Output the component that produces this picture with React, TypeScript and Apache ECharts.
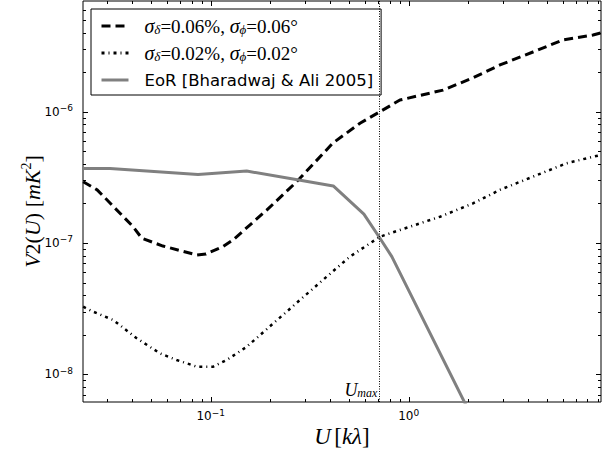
import React, { useEffect, useRef } from 'react';
import * as echarts from 'echarts';

// ---- data ----
const uDashed = [0.0227, 0.0267, 0.0406, 0.0449, 0.0574, 0.085, 0.0947, 0.1153, 0.1296, 0.1918, 0.2718, 0.4147, 0.5675, 0.716, 0.903, 1.49, 2.11, 2.89, 4.24, 6.02, 8.53, 9.36];
const vDashed = [2.93e-7, 2.54e-7, 1.33e-7, 1.086e-7, 9.48e-8, 8.11e-8, 8.24e-8, 9.38e-8, 1.055e-7, 1.78e-7, 2.93e-7, 5.78e-7, 8.16e-7, 1.0e-6, 1.227e-6, 1.46e-6, 1.81e-6, 2.27e-6, 2.85e-6, 3.52e-6, 3.84e-6, 3.98e-6];

const uDotted = [0.0227, 0.0255, 0.0322, 0.0423, 0.0554, 0.0673, 0.085, 0.1031, 0.1204, 0.152, 0.207, 0.2824, 0.3854, 0.505, 0.716, 0.903, 1.44, 2.11, 2.89, 4.24, 6.28, 8.53, 9.36];
const vDotted = [3.27e-8, 3.0e-8, 2.59e-8, 1.88e-8, 1.444e-8, 1.285e-8, 1.143e-8, 1.143e-8, 1.285e-8, 1.62e-8, 2.44e-8, 3.68e-8, 5.54e-8, 7.87e-8, 1.117e-7, 1.256e-7, 1.585e-7, 2.0e-7, 2.54e-7, 3.2e-7, 4.05e-7, 4.54e-7, 4.68e-7];

const uEoR = [0.0227, 0.031, 0.0863, 0.152, 0.2606, 0.416, 0.594, 0.716, 0.822, 2.29];
const vEoR = [3.7e-7, 3.7e-7, 3.33e-7, 3.53e-7, 3.07e-7, 2.72e-7, 1.66e-7, 1.086e-7, 7.87e-8, 3.56e-9];

const uMax = 0.711;

const seriesNames = ['s006', 's002', 'eor'];

const xMin = 0.02265;
const xMax = 9.36;
const yMin = 6.15e-9;
const yMax = 6.97e-6;

const xMajorTicks = [0.1, 1];
const yMajorTicks = [1e-8, 1e-7, 1e-6];

function minorTicks(lo: number, hi: number) {
  const out: number[] = [];
  for (let e = Math.floor(Math.log10(lo)); e <= Math.ceil(Math.log10(hi)); e++) {
    for (let k = 2; k <= 9; k++) {
      const v = k * Math.pow(10, e);
      if (v > lo && v < hi) out.push(v);
    }
  }
  return out;
}

const zip = (a: number[], b: number[]) => a.map((x, i) => [x, b[i]]);

const SERIF = 'Liberation Serif';
const SANS = 'DejaVu Sans';

function logLabel(value: number) {
  const l = Math.log10(value);
  const n = Math.round(l);
  if (Math.abs(l - n) > 1e-6) return '';
  const e = n < 0 ? '\u2212' + -n : String(n);
  return `{b|10}{s|${e}}`;
}

const labelRich = {
  b: { fontFamily: SANS, fontSize: 12, color: '#000', lineHeight: 16 },
  s: { fontFamily: SANS, fontSize: 9, color: '#000', verticalAlign: 'top', lineHeight: 10 },
};

const legendText: Record<string, string> = {
  s006: '{sp|}{g|σ}{sb|δ}{r|=0.06%, }{g|σ}{sb|ϕ}{r|=0.06°}',
  s002: '{sp|}{g|σ}{sb|δ}{r|=0.02%, }{g|σ}{sb|ϕ}{r|=0.02°}',
  eor: '{sp|}{e|EoR [Bharadwaj & Ali 2005]}',
};

function tickSeries(axis: 'x' | 'y', major: number[], minor: number[]) {
  const data = [
    ...major.map((v) => (axis === 'x' ? [v, yMin, 1] : [xMin, v, 1])),
    ...minor.map((v) => (axis === 'x' ? [v, yMin, 0] : [xMin, v, 0])),
  ];
  return {
    type: 'custom',
    silent: true,
    z: 10,
    data,
    encode: { x: 0, y: 1 },
    renderItem: (params: any, api: any) => {
      const cs = params.coordSys;
      const isMajor = api.value(2) === 1;
      const len = isMajor ? 5 : 3;
      const p = api.coord([api.value(0), api.value(1)]);
      const st = { stroke: '#000', lineWidth: 1 };
      if (axis === 'x') {
        const x = Math.round(p[0]) + 0.5;
        const b = cs.y + cs.height;
        return {
          type: 'group',
          children: [
            { type: 'line', shape: { x1: x, y1: b, x2: x, y2: b - len }, style: st },
            { type: 'line', shape: { x1: x, y1: cs.y, x2: x, y2: cs.y + len }, style: st },
          ],
        };
      }
      const y = Math.round(p[1]) + 0.5;
      const r = cs.x + cs.width;
      return {
        type: 'group',
        children: [
          { type: 'line', shape: { x1: cs.x, y1: y, x2: cs.x + len, y2: y }, style: st },
          { type: 'line', shape: { x1: r, y1: y, x2: r - len, y2: y }, style: st },
        ],
      };
    },
  };
}

export default function App() {
  const ref = useRef<HTMLDivElement>(null);
  useEffect(() => {
    if (!ref.current) return;
    const chart = echarts.init(ref.current, null, { renderer: 'svg' });
    const option: any = {
      animation: false,
      backgroundColor: '#fff',
      grid: {
        left: 83,
        top: 1,
        right: 4,
        bottom: 53,
        show: true,
        borderColor: '#000',
        borderWidth: 1,
        backgroundColor: 'transparent',
      },
      legend: {
        orient: 'vertical',
        left: 91,
        top: 9,
        padding: [7, 8, 5, 9],
        itemGap: 7,
        itemWidth: 27,
        itemHeight: 14,
        borderColor: '#000',
        borderWidth: 1,
        backgroundColor: '#fff',
        selectedMode: false,
        data: seriesNames,
        itemStyle: { opacity: 0, borderWidth: 0 },
        lineStyle: { width: 3, type: 'inherit', opacity: 1 },
        formatter: (name: string) => legendText[name],
        textStyle: {
          color: '#000',
          lineHeight: 20,
          rich: {
            sp: { width: 11 },
            g: { fontFamily: SERIF, fontStyle: 'italic', fontSize: 20, color: '#000', lineHeight: 20 },
            sb: { fontFamily: SERIF, fontStyle: 'italic', fontSize: 13, color: '#000', verticalAlign: 'bottom', lineHeight: 13 },
            r: { fontFamily: SERIF, fontSize: 19, color: '#000', lineHeight: 20 },
            e: { fontFamily: SANS, fontSize: 16.5, color: '#000', lineHeight: 20 },
          },
        },
      },
      xAxis: {
        type: 'log',
        logBase: 10,
        min: xMin,
        max: xMax,
        axisLine: { show: false },
        axisTick: { show: false },
        splitLine: { show: false },
        minorTick: { show: false },
        axisLabel: { formatter: logLabel, margin: 6, rich: labelRich },
        name: '{i|U} {r|[}{i|kλ}{r|]}',
        nameLocation: 'middle',
        nameGap: 23,
        nameMoveOverlap: false,
        nameTextStyle: {
          rich: {
            i: { fontFamily: SERIF, fontStyle: 'italic', fontSize: 23, color: '#000' },
            r: { fontFamily: SERIF, fontSize: 23, color: '#000' },
          },
        },
      },
      yAxis: {
        type: 'log',
        logBase: 10,
        min: yMin,
        max: yMax,
        axisLine: { show: false },
        axisTick: { show: false },
        splitLine: { show: false },
        minorTick: { show: false },
        axisLabel: { formatter: logLabel, margin: 10, rich: labelRich },
        name: '{i|V}{r|2(}{i|U}{r|) [}{i|mK}{sp|2}{r|]}{pd|}',
        nameLocation: 'middle',
        nameGap: 38,
        nameMoveOverlap: false,
        nameTextStyle: {
          rich: {
            pd: { width: 20 },
            i: { fontFamily: SERIF, fontStyle: 'italic', fontSize: 22, color: '#000', lineHeight: 26 },
            r: { fontFamily: SERIF, fontSize: 22, color: '#000', lineHeight: 26 },
            sp: { fontFamily: SERIF, fontSize: 14, color: '#000', verticalAlign: 'top', lineHeight: 16 },
          },
        },
      },
      series: [
        {
          name: seriesNames[0],
          type: 'line',
          data: zip(uDashed, vDashed),
          symbol: 'none',
          showSymbol: false,
          clip: true,
          itemStyle: { color: '#000' },
          lineStyle: { color: '#000', width: 3, type: [9, 5], cap: 'butt' },
          z: 2,
        },
        {
          name: seriesNames[1],
          type: 'line',
          data: zip(uDotted, vDotted),
          symbol: 'none',
          showSymbol: false,
          clip: true,
          itemStyle: { color: '#000' },
          lineStyle: { color: '#000', width: 2.5, type: [3, 4, 1, 4], cap: 'butt' },
          z: 3,
        },
        {
          name: seriesNames[2],
          type: 'line',
          data: zip(uEoR, vEoR),
          symbol: 'none',
          showSymbol: false,
          clip: true,
          itemStyle: { color: '#808080' },
          lineStyle: { color: '#808080', width: 3, type: 'solid' },
          z: 4,
          markLine: {
            silent: true,
            symbol: 'none',
            label: { show: false },
            lineStyle: { color: '#000', width: 1, type: [1, 1.5] },
            data: [{ xAxis: uMax }],
          },
        },
        tickSeries('x', xMajorTicks, minorTicks(xMin, xMax)),
        tickSeries('y', yMajorTicks, minorTicks(yMin, yMax)),
      ],
    };
    chart.setOption(option);
    const px = chart.convertToPixel({ xAxisIndex: 0 }, uMax) as number;
    const py = chart.convertToPixel({ yAxisIndex: 0 }, yMin) as number;
    chart.setOption({
      graphic: [
        {
          type: 'text',
          x: px - 2,
          y: py - 3,
          z: 20,
          style: {
            text: '{u|U}{m|max}',
            align: 'right',
            verticalAlign: 'bottom',
            rich: {
              u: { fontFamily: SERIF, fontStyle: 'italic', fontSize: 18, fill: '#000', color: '#000', lineHeight: 18 },
              m: { fontFamily: SERIF, fontStyle: 'italic', fontSize: 12, fill: '#000', color: '#000', verticalAlign: 'bottom', lineHeight: 10 },
            },
          },
        },
      ],
    });
    return () => chart.dispose();
  }, []);
  return (
    <div
      ref={ref}
      style={{ position: 'fixed', left: 0, top: 0, width: 605, height: 455 }}
    />
  );
}
